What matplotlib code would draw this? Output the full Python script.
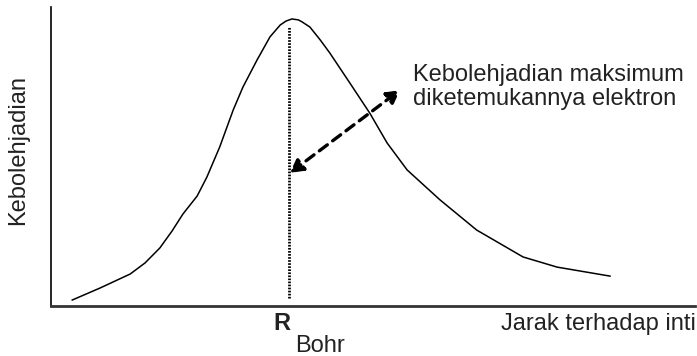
import numpy as np
import matplotlib
matplotlib.use('Agg')
import matplotlib.pyplot as plt

plt.rcParams['font.family'] = ['Liberation Sans', 'DejaVu Sans']

#%% data (relative units, axes 0..1)

r = [0.033, 0.076, 0.123, 0.146, 0.169, 0.188, 0.205, 0.227, 0.242, 0.262,
     0.283, 0.298, 0.320, 0.340, 0.356, 0.365, 0.374, 0.384, 0.390, 0.402,
     0.418, 0.433, 0.464, 0.495, 0.522, 0.553, 0.604, 0.661, 0.733, 0.786,
     0.868]
P = [0.020, 0.060, 0.107, 0.144, 0.194, 0.251, 0.308, 0.368, 0.431, 0.532,
     0.656, 0.732, 0.823, 0.900, 0.940, 0.953, 0.960, 0.957, 0.950, 0.933,
     0.890, 0.846, 0.746, 0.645, 0.545, 0.455, 0.355, 0.254, 0.164, 0.130,
     0.100]

r_bohr = 0.370
bohr_line = [0.027, 0.933]
arrow_from = (0.371, 0.445)
arrow_to = (0.542, 0.722)

ylabel = 'Kebolehjadian'
xlabel = 'Jarak terhadap inti'
note = 'Kebolehjadian maksimum\ndiketemukannya elektron'

#%% figure

W, H = 697, 356
fig = plt.figure(figsize=(W/100, H/100), dpi=100)
ax = fig.add_axes([51/W, 50/H, 644/W, 299/H])
ax.set_xlim(0, 1)
ax.set_ylim(0, 1)

ax.plot(r, P, color='black', lw=1.1)
ax.plot([r_bohr, r_bohr], bohr_line, color='black', lw=2, ls=(0, (0.6, 0.5)))

ax.annotate('', xy=arrow_to, xytext=arrow_from,
            arrowprops=dict(arrowstyle='<|-|>,head_length=0.55,head_width=0.3',
                            ls=(0, (3, 2)), lw=2.4, color='black',
                            shrinkA=0, shrinkB=0, mutation_scale=14))

ax.set_xticks([])
ax.set_yticks([])
for s in ['top', 'right']:
    ax.spines[s].set_visible(False)
ax.spines['left'].set_linewidth(1.2)
ax.spines['left'].set_color('black')
ax.spines['bottom'].set_linewidth(2)
ax.spines['bottom'].set_color('#333333')

tc = '#222222'
fs = 17
fig.text(18/W, (H-150)/H, ylabel, rotation=90, ha='center', va='center', fontsize=fs, color=tc)
fig.text(696/W, (H-330)/H, xlabel, ha='right', va='baseline', fontsize=fs, color=tc)
fig.text(273/W, (H-330)/H, 'R', ha='left', va='baseline', fontsize=fs, weight='bold', color=tc)
fig.text(295/W, (H-352)/H, 'Bohr', ha='left', va='baseline', fontsize=fs, color=tc)
fig.text(413/W, (H-105)/H, note, ha='left', va='baseline', fontsize=fs, color=tc,
         linespacing=1.1)

fig.savefig('out.png', dpi=100)
